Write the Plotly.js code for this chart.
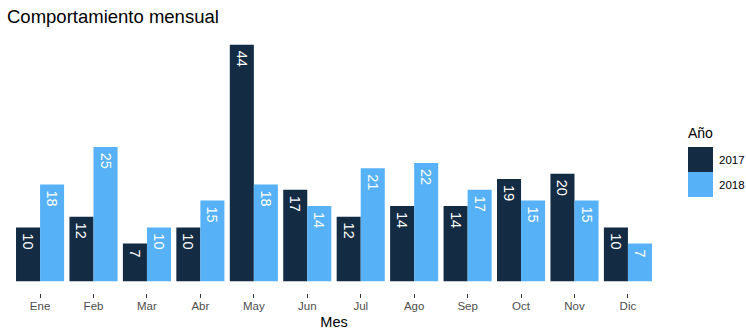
<!DOCTYPE html>
<html>
<head>
<meta charset="utf-8">
<script src="https://cdn.plot.ly/plotly-3.0.1.min.js"></script>
<style>html,body{margin:0;padding:0;background:#fff;}#chart{width:746px;height:333px;}</style>
</head>
<body>
<div id="chart"></div>
<script>
const months = ["Ene","Feb","Mar","Abr","May","Jun","Jul","Ago","Sep","Oct","Nov","Dic"];
const values2017 = [10,12,7,10,44,17,12,14,14,19,20,10];
const values2018 = [18,25,10,15,18,14,21,22,17,15,15,7];
const seriesNames = ["2017","2018"];
const seriesColors = ["#132B43","#56B1F7"];

const W = 746, H = 333;
const margin = {l: 8, r: 86, t: 33, b: 40};
const pw = W - margin.l - margin.r, ph = H - margin.t - margin.b;
const px2x = p => (p - margin.l) / pw;
const py2y = p => 1 - (p - margin.t) / ph;

const font = "Liberation Sans, Arial, sans-serif";
function barTrace(vals, i) {
  return {
    type: "bar", x: months, y: vals, name: seriesNames[i],
    marker: {color: seriesColors[i], line: {width: 0}},
    text: vals.map(v => "\u2009" + v), textposition: "inside", insidetextanchor: "end",
    textangle: 90, constraintext: "none",
    insidetextfont: {color: "#ffffff", size: 14.5, family: font},
    hoverinfo: "skip", showlegend: false
  };
}

// manual legend
const shapes = [], annotations = [];
const swTop = [147, 172];
seriesNames.forEach((n, i) => {
  shapes.push({type: "rect", xref: "paper", yref: "paper",
    x0: px2x(688), x1: px2x(713), y0: py2y(swTop[i] + 25), y1: py2y(swTop[i]),
    fillcolor: seriesColors[i], line: {width: 0}});
  annotations.push({xref: "paper", yref: "paper", x: px2x(717), y: py2y(swTop[i] + 12.5),
    text: n, showarrow: false, xanchor: "left", yanchor: "middle",
    font: {size: 11.5, color: "#000", family: font}});
});
annotations.push({xref: "paper", yref: "paper", x: px2x(686), y: py2y(133),
  text: "Año", showarrow: false, xanchor: "left", yanchor: "middle",
  font: {size: 14, color: "#000", family: font}});

const layout = {
  width: W, height: H, margin: margin,
  paper_bgcolor: "#fff", plot_bgcolor: "#fff",
  font: {family: font},
  title: {text: "Comportamiento mensual", x: 7/W, xanchor: "left", y: 1 - 17/H, yanchor: "middle",
    font: {size: 18.5, color: "#000", family: font}},
  barmode: "group", bargap: 0.1, bargroupgap: 0,
  xaxis: {type: "category", range: [-0.6, 11.6], showgrid: false, zeroline: false, showline: false,
    ticks: "outside", ticklen: 4, tickcolor: "#333", tickwidth: 1, ticklabelstandoff: -2,
    tickfont: {size: 11.5, color: "#4D4D4D", family: font},
    title: {text: "Mes", font: {size: 14.5, color: "#000", family: font}, standoff: 6}},
  yaxis: {range: [-2.2, 46.2], visible: false, showgrid: false, zeroline: false},
  shapes: shapes, annotations: annotations, showlegend: false
};

Plotly.newPlot("chart", [barTrace(values2017, 0), barTrace(values2018, 1)], layout, {displayModeBar: false, staticPlot: true});
</script>
</body>
</html>
